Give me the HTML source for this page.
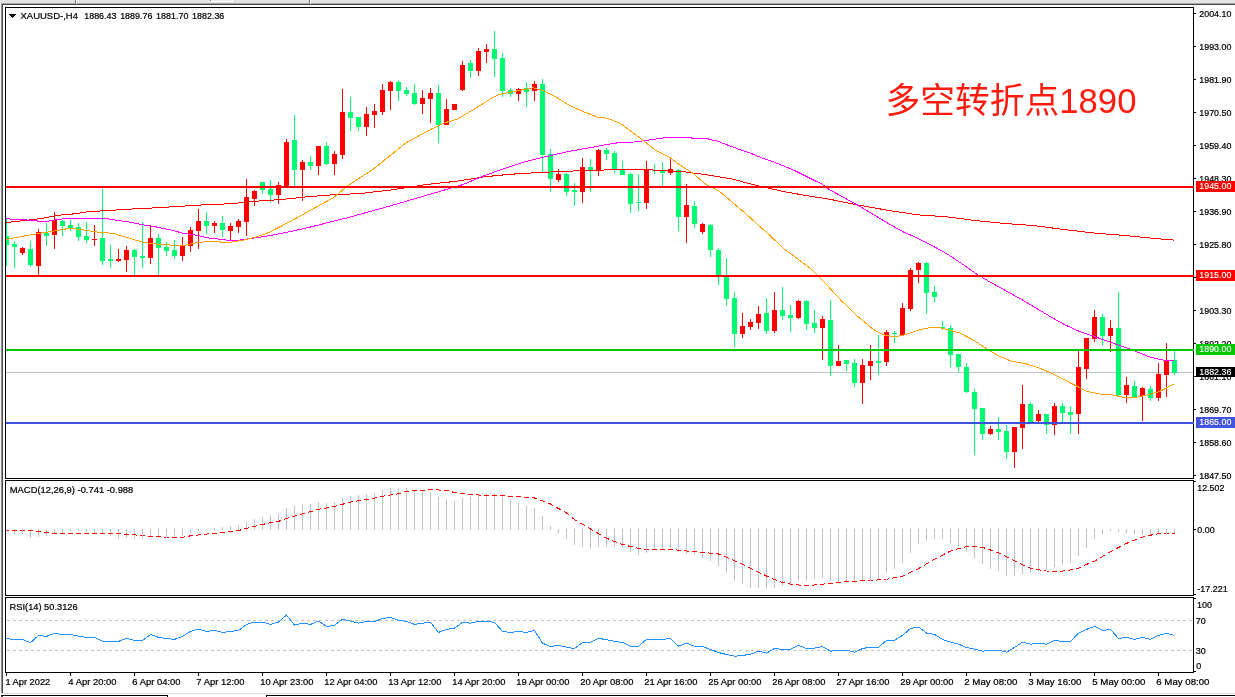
<!DOCTYPE html><html><head><meta charset="utf-8"><title>XAUUSD H4</title><style>
html,body{margin:0;padding:0;background:#fff;overflow:hidden}
svg{display:block}
text{font-family:"Liberation Sans","Noto Sans CJK SC",sans-serif;font-size:9px;fill:#000;stroke:#000;stroke-width:.22px}
text.w{fill:#fff;stroke:#fff;stroke-width:.12px}
.big{stroke:none;font-family:"Liberation Sans","Noto Sans CJK SC",sans-serif;font-size:35px;fill:#ff1a0e;font-weight:400}
</style></head><body>
<svg width="1235" height="697" viewBox="0 0 1235 697">
<rect width="1235" height="697" fill="#fff"/>
<g shape-rendering="crispEdges">
<rect x="0" y="0" width="1235" height="3" fill="#e3e3e3"/>
<rect x="0" y="3" width="1235" height="1" fill="#a6a6a6"/>
<rect x="2" y="4" width="1233" height="1" fill="#484848"/>
<rect x="75" y="0" width="1" height="4" fill="#777"/>
<rect x="76" y="0" width="1" height="4" fill="#fff"/>
<rect x="309" y="0" width="1" height="4" fill="#777"/>
<rect x="310" y="0" width="1" height="4" fill="#fff"/>
<rect x="210" y="0" width="23" height="2" fill="#fff"/>
<rect x="212" y="0" width="19" height="1" fill="#ebebeb"/>
<rect x="210" y="0" width="1" height="1" fill="#666"/>
<rect x="0" y="3" width="1" height="690" fill="#f2f2f2"/>
<rect x="1" y="4" width="1" height="689" fill="#909090"/>
<rect x="2" y="4" width="1" height="689" fill="#4c4c4c"/>
<rect x="1" y="693" width="1234" height="1" fill="#dcdcdc"/>
<rect x="1" y="695" width="167" height="1" fill="#000"/>
<rect x="167" y="695" width="1" height="2" fill="#000"/>
<rect x="266" y="695" width="969" height="1" fill="#000"/>
<rect x="266" y="695" width="1" height="2" fill="#000"/>
<rect x="1" y="696" width="2" height="1" fill="#444"/>
<rect x="5" y="7" width="1189" height="1" fill="#000"/>
<rect x="5" y="478" width="1189" height="1" fill="#000"/>
<rect x="5" y="7" width="1" height="472" fill="#000"/>
<rect x="1193" y="7" width="1" height="472" fill="#000"/>
<rect x="5" y="480" width="1189" height="1" fill="#000"/>
<rect x="5" y="595" width="1189" height="1" fill="#000"/>
<rect x="5" y="480" width="1" height="116" fill="#000"/>
<rect x="1193" y="480" width="1" height="116" fill="#000"/>
<rect x="5" y="597" width="1189" height="1" fill="#000"/>
<rect x="5" y="672" width="1189" height="1" fill="#000"/>
<rect x="5" y="597" width="1" height="76" fill="#000"/>
<rect x="1193" y="597" width="1" height="76" fill="#000"/>
</g>
<defs><clipPath id="c1"><rect x="6" y="8" width="1188" height="470"/></clipPath><clipPath id="c2"><rect x="6" y="481" width="1187" height="114"/></clipPath><clipPath id="c3"><rect x="6" y="598" width="1187" height="74"/></clipPath></defs>
<g shape-rendering="crispEdges" clip-path="url(#c1)">
<rect x="6" y="372" width="1187" height="1" fill="#c0c0c0"/>
<rect x="6" y="219" width="1" height="47" fill="#00fa70"/>
<rect x="4" y="236" width="5" height="9" fill="#00fa70"/>
<rect x="14" y="241" width="1" height="27" fill="#00fa70"/>
<rect x="12" y="244" width="5" height="3" fill="#00fa70"/>
<rect x="22" y="247" width="1" height="8" fill="#ff0000"/>
<rect x="20" y="248" width="5" height="5" fill="#ff0000"/>
<rect x="30" y="241" width="1" height="26" fill="#00fa70"/>
<rect x="28" y="249" width="5" height="16" fill="#00fa70"/>
<rect x="38" y="229" width="1" height="47" fill="#ff0000"/>
<rect x="36" y="232" width="5" height="34" fill="#ff0000"/>
<rect x="46" y="223" width="1" height="23" fill="#00fa70"/>
<rect x="44" y="233" width="5" height="3" fill="#00fa70"/>
<rect x="54" y="212" width="1" height="37" fill="#ff0000"/>
<rect x="52" y="220" width="5" height="15" fill="#ff0000"/>
<rect x="62" y="220" width="1" height="16" fill="#00fa70"/>
<rect x="60" y="221" width="5" height="5" fill="#00fa70"/>
<rect x="70" y="220" width="1" height="11" fill="#00fa70"/>
<rect x="68" y="225" width="5" height="3" fill="#00fa70"/>
<rect x="78" y="223" width="1" height="18" fill="#00fa70"/>
<rect x="76" y="227" width="5" height="10" fill="#00fa70"/>
<rect x="86" y="222" width="1" height="21" fill="#00fa70"/>
<rect x="84" y="236" width="5" height="4" fill="#00fa70"/>
<rect x="94" y="225" width="1" height="21" fill="#ff0000"/>
<rect x="92" y="239" width="5" height="1" fill="#ff0000"/>
<rect x="102" y="189" width="1" height="76" fill="#00fa70"/>
<rect x="100" y="238" width="5" height="23" fill="#00fa70"/>
<rect x="110" y="245" width="1" height="23" fill="#00fa70"/>
<rect x="108" y="259" width="5" height="2" fill="#00fa70"/>
<rect x="118" y="249" width="1" height="13" fill="#ff0000"/>
<rect x="116" y="259" width="5" height="2" fill="#ff0000"/>
<rect x="126" y="246" width="1" height="26" fill="#ff0000"/>
<rect x="124" y="250" width="5" height="10" fill="#ff0000"/>
<rect x="134" y="249" width="1" height="27" fill="#00fa70"/>
<rect x="132" y="250" width="5" height="7" fill="#00fa70"/>
<rect x="142" y="222" width="1" height="46" fill="#00fa70"/>
<rect x="140" y="256" width="5" height="2" fill="#00fa70"/>
<rect x="150" y="225" width="1" height="39" fill="#ff0000"/>
<rect x="148" y="238" width="5" height="20" fill="#ff0000"/>
<rect x="158" y="234" width="1" height="42" fill="#00fa70"/>
<rect x="156" y="238" width="5" height="10" fill="#00fa70"/>
<rect x="166" y="242" width="1" height="14" fill="#00fa70"/>
<rect x="164" y="247" width="5" height="4" fill="#00fa70"/>
<rect x="174" y="240" width="1" height="19" fill="#00fa70"/>
<rect x="172" y="250" width="5" height="6" fill="#00fa70"/>
<rect x="182" y="237" width="1" height="24" fill="#ff0000"/>
<rect x="180" y="246" width="5" height="10" fill="#ff0000"/>
<rect x="190" y="227" width="1" height="25" fill="#ff0000"/>
<rect x="188" y="230" width="5" height="16" fill="#ff0000"/>
<rect x="198" y="209" width="1" height="40" fill="#ff0000"/>
<rect x="196" y="221" width="5" height="10" fill="#ff0000"/>
<rect x="206" y="212" width="1" height="22" fill="#00fa70"/>
<rect x="204" y="221" width="5" height="5" fill="#00fa70"/>
<rect x="214" y="221" width="1" height="12" fill="#ff0000"/>
<rect x="212" y="223" width="5" height="3" fill="#ff0000"/>
<rect x="222" y="216" width="1" height="21" fill="#00fa70"/>
<rect x="220" y="223" width="5" height="7" fill="#00fa70"/>
<rect x="230" y="223" width="1" height="17" fill="#ff0000"/>
<rect x="228" y="226" width="5" height="5" fill="#ff0000"/>
<rect x="238" y="219" width="1" height="14" fill="#ff0000"/>
<rect x="236" y="221" width="5" height="6" fill="#ff0000"/>
<rect x="246" y="179" width="1" height="57" fill="#ff0000"/>
<rect x="244" y="197" width="5" height="25" fill="#ff0000"/>
<rect x="254" y="190" width="1" height="16" fill="#ff0000"/>
<rect x="252" y="191" width="5" height="8" fill="#ff0000"/>
<rect x="262" y="182" width="1" height="12" fill="#00fa70"/>
<rect x="260" y="182" width="5" height="8" fill="#00fa70"/>
<rect x="270" y="180" width="1" height="23" fill="#00fa70"/>
<rect x="268" y="189" width="5" height="6" fill="#00fa70"/>
<rect x="278" y="182" width="1" height="22" fill="#ff0000"/>
<rect x="276" y="185" width="5" height="10" fill="#ff0000"/>
<rect x="286" y="139" width="1" height="49" fill="#ff0000"/>
<rect x="284" y="142" width="5" height="46" fill="#ff0000"/>
<rect x="294" y="115" width="1" height="73" fill="#00fa70"/>
<rect x="292" y="140" width="5" height="30" fill="#00fa70"/>
<rect x="302" y="160" width="1" height="41" fill="#ff0000"/>
<rect x="300" y="162" width="5" height="8" fill="#ff0000"/>
<rect x="310" y="156" width="1" height="14" fill="#00fa70"/>
<rect x="308" y="162" width="5" height="4" fill="#00fa70"/>
<rect x="318" y="146" width="1" height="29" fill="#ff0000"/>
<rect x="316" y="146" width="5" height="20" fill="#ff0000"/>
<rect x="326" y="142" width="1" height="23" fill="#00fa70"/>
<rect x="324" y="146" width="5" height="18" fill="#00fa70"/>
<rect x="334" y="151" width="1" height="24" fill="#ff0000"/>
<rect x="332" y="154" width="5" height="10" fill="#ff0000"/>
<rect x="342" y="89" width="1" height="70" fill="#ff0000"/>
<rect x="340" y="112" width="5" height="43" fill="#ff0000"/>
<rect x="350" y="97" width="1" height="34" fill="#00fa70"/>
<rect x="348" y="112" width="5" height="6" fill="#00fa70"/>
<rect x="358" y="117" width="1" height="14" fill="#00fa70"/>
<rect x="356" y="117" width="5" height="10" fill="#00fa70"/>
<rect x="366" y="107" width="1" height="29" fill="#ff0000"/>
<rect x="364" y="114" width="5" height="13" fill="#ff0000"/>
<rect x="374" y="104" width="1" height="24" fill="#ff0000"/>
<rect x="372" y="111" width="5" height="4" fill="#ff0000"/>
<rect x="382" y="84" width="1" height="31" fill="#ff0000"/>
<rect x="380" y="90" width="5" height="22" fill="#ff0000"/>
<rect x="390" y="81" width="1" height="29" fill="#ff0000"/>
<rect x="388" y="82" width="5" height="9" fill="#ff0000"/>
<rect x="398" y="80" width="1" height="21" fill="#00fa70"/>
<rect x="396" y="82" width="5" height="9" fill="#00fa70"/>
<rect x="406" y="87" width="1" height="9" fill="#00fa70"/>
<rect x="404" y="90" width="5" height="4" fill="#00fa70"/>
<rect x="414" y="84" width="1" height="21" fill="#00fa70"/>
<rect x="412" y="93" width="5" height="11" fill="#00fa70"/>
<rect x="422" y="90" width="1" height="24" fill="#ff0000"/>
<rect x="420" y="98" width="5" height="6" fill="#ff0000"/>
<rect x="430" y="88" width="1" height="35" fill="#ff0000"/>
<rect x="428" y="93" width="5" height="6" fill="#ff0000"/>
<rect x="438" y="85" width="1" height="58" fill="#00fa70"/>
<rect x="436" y="93" width="5" height="32" fill="#00fa70"/>
<rect x="446" y="99" width="1" height="26" fill="#ff0000"/>
<rect x="444" y="109" width="5" height="16" fill="#ff0000"/>
<rect x="454" y="104" width="1" height="6" fill="#ff0000"/>
<rect x="452" y="104" width="5" height="6" fill="#ff0000"/>
<rect x="462" y="61" width="1" height="30" fill="#ff0000"/>
<rect x="460" y="65" width="5" height="25" fill="#ff0000"/>
<rect x="470" y="60" width="1" height="18" fill="#00fa70"/>
<rect x="468" y="63" width="5" height="8" fill="#00fa70"/>
<rect x="478" y="48" width="1" height="28" fill="#ff0000"/>
<rect x="476" y="51" width="5" height="20" fill="#ff0000"/>
<rect x="486" y="44" width="1" height="19" fill="#ff0000"/>
<rect x="484" y="49" width="5" height="3" fill="#ff0000"/>
<rect x="494" y="31" width="1" height="46" fill="#00fa70"/>
<rect x="492" y="49" width="5" height="10" fill="#00fa70"/>
<rect x="502" y="53" width="1" height="44" fill="#00fa70"/>
<rect x="500" y="58" width="5" height="33" fill="#00fa70"/>
<rect x="510" y="88" width="1" height="9" fill="#00fa70"/>
<rect x="508" y="90" width="5" height="4" fill="#00fa70"/>
<rect x="518" y="88" width="1" height="13" fill="#ff0000"/>
<rect x="516" y="89" width="5" height="5" fill="#ff0000"/>
<rect x="526" y="82" width="1" height="25" fill="#00fa70"/>
<rect x="524" y="88" width="5" height="4" fill="#00fa70"/>
<rect x="534" y="81" width="1" height="20" fill="#ff0000"/>
<rect x="532" y="84" width="5" height="7" fill="#ff0000"/>
<rect x="542" y="79" width="1" height="93" fill="#00fa70"/>
<rect x="540" y="84" width="5" height="71" fill="#00fa70"/>
<rect x="550" y="149" width="1" height="43" fill="#00fa70"/>
<rect x="548" y="154" width="5" height="25" fill="#00fa70"/>
<rect x="558" y="169" width="1" height="13" fill="#ff0000"/>
<rect x="556" y="174" width="5" height="6" fill="#ff0000"/>
<rect x="566" y="173" width="1" height="23" fill="#00fa70"/>
<rect x="564" y="174" width="5" height="18" fill="#00fa70"/>
<rect x="574" y="183" width="1" height="23" fill="#00fa70"/>
<rect x="572" y="190" width="5" height="2" fill="#00fa70"/>
<rect x="582" y="158" width="1" height="45" fill="#ff0000"/>
<rect x="580" y="167" width="5" height="25" fill="#ff0000"/>
<rect x="590" y="159" width="1" height="33" fill="#00fa70"/>
<rect x="588" y="167" width="5" height="3" fill="#00fa70"/>
<rect x="598" y="149" width="1" height="27" fill="#ff0000"/>
<rect x="596" y="150" width="5" height="21" fill="#ff0000"/>
<rect x="606" y="148" width="1" height="12" fill="#00fa70"/>
<rect x="604" y="150" width="5" height="4" fill="#00fa70"/>
<rect x="614" y="151" width="1" height="22" fill="#00fa70"/>
<rect x="612" y="153" width="5" height="16" fill="#00fa70"/>
<rect x="622" y="161" width="1" height="14" fill="#00fa70"/>
<rect x="620" y="170" width="5" height="5" fill="#00fa70"/>
<rect x="630" y="173" width="1" height="40" fill="#00fa70"/>
<rect x="628" y="174" width="5" height="30" fill="#00fa70"/>
<rect x="638" y="174" width="1" height="37" fill="#00fa70"/>
<rect x="636" y="202" width="5" height="1" fill="#00fa70"/>
<rect x="646" y="161" width="1" height="48" fill="#ff0000"/>
<rect x="644" y="169" width="5" height="34" fill="#ff0000"/>
<rect x="654" y="164" width="1" height="10" fill="#00fa70"/>
<rect x="652" y="170" width="5" height="1" fill="#00fa70"/>
<rect x="662" y="162" width="1" height="24" fill="#00fa70"/>
<rect x="660" y="170" width="5" height="3" fill="#00fa70"/>
<rect x="670" y="157" width="1" height="18" fill="#ff0000"/>
<rect x="668" y="169" width="5" height="4" fill="#ff0000"/>
<rect x="678" y="169" width="1" height="62" fill="#00fa70"/>
<rect x="676" y="170" width="5" height="47" fill="#00fa70"/>
<rect x="686" y="184" width="1" height="59" fill="#ff0000"/>
<rect x="684" y="205" width="5" height="12" fill="#ff0000"/>
<rect x="694" y="201" width="1" height="27" fill="#00fa70"/>
<rect x="692" y="206" width="5" height="18" fill="#00fa70"/>
<rect x="702" y="223" width="1" height="11" fill="#ff0000"/>
<rect x="700" y="224" width="5" height="8" fill="#ff0000"/>
<rect x="710" y="224" width="1" height="33" fill="#00fa70"/>
<rect x="708" y="225" width="5" height="25" fill="#00fa70"/>
<rect x="718" y="248" width="1" height="37" fill="#00fa70"/>
<rect x="716" y="250" width="5" height="25" fill="#00fa70"/>
<rect x="726" y="258" width="1" height="48" fill="#00fa70"/>
<rect x="724" y="277" width="5" height="22" fill="#00fa70"/>
<rect x="734" y="292" width="1" height="55" fill="#00fa70"/>
<rect x="732" y="298" width="5" height="36" fill="#00fa70"/>
<rect x="742" y="313" width="1" height="25" fill="#ff0000"/>
<rect x="740" y="326" width="5" height="8" fill="#ff0000"/>
<rect x="750" y="319" width="1" height="11" fill="#ff0000"/>
<rect x="748" y="322" width="5" height="5" fill="#ff0000"/>
<rect x="758" y="306" width="1" height="23" fill="#ff0000"/>
<rect x="756" y="314" width="5" height="9" fill="#ff0000"/>
<rect x="766" y="298" width="1" height="36" fill="#00fa70"/>
<rect x="764" y="313" width="5" height="18" fill="#00fa70"/>
<rect x="774" y="292" width="1" height="41" fill="#ff0000"/>
<rect x="772" y="310" width="5" height="21" fill="#ff0000"/>
<rect x="782" y="287" width="1" height="33" fill="#00fa70"/>
<rect x="780" y="310" width="5" height="6" fill="#00fa70"/>
<rect x="790" y="305" width="1" height="27" fill="#00fa70"/>
<rect x="788" y="315" width="5" height="3" fill="#00fa70"/>
<rect x="798" y="300" width="1" height="19" fill="#ff0000"/>
<rect x="796" y="301" width="5" height="17" fill="#ff0000"/>
<rect x="806" y="300" width="1" height="30" fill="#00fa70"/>
<rect x="804" y="301" width="5" height="23" fill="#00fa70"/>
<rect x="814" y="310" width="1" height="23" fill="#00fa70"/>
<rect x="812" y="323" width="5" height="5" fill="#00fa70"/>
<rect x="822" y="316" width="1" height="44" fill="#ff0000"/>
<rect x="820" y="319" width="5" height="9" fill="#ff0000"/>
<rect x="830" y="300" width="1" height="76" fill="#00fa70"/>
<rect x="828" y="320" width="5" height="46" fill="#00fa70"/>
<rect x="838" y="345" width="1" height="21" fill="#ff0000"/>
<rect x="836" y="361" width="5" height="5" fill="#ff0000"/>
<rect x="846" y="360" width="1" height="11" fill="#00fa70"/>
<rect x="844" y="360" width="5" height="4" fill="#00fa70"/>
<rect x="854" y="359" width="1" height="28" fill="#00fa70"/>
<rect x="852" y="363" width="5" height="20" fill="#00fa70"/>
<rect x="862" y="359" width="1" height="45" fill="#ff0000"/>
<rect x="860" y="365" width="5" height="18" fill="#ff0000"/>
<rect x="870" y="345" width="1" height="35" fill="#ff0000"/>
<rect x="868" y="361" width="5" height="5" fill="#ff0000"/>
<rect x="878" y="335" width="1" height="40" fill="#00fa70"/>
<rect x="876" y="361" width="5" height="2" fill="#00fa70"/>
<rect x="886" y="330" width="1" height="36" fill="#ff0000"/>
<rect x="884" y="332" width="5" height="30" fill="#ff0000"/>
<rect x="894" y="331" width="1" height="12" fill="#00fa70"/>
<rect x="892" y="333" width="5" height="1" fill="#00fa70"/>
<rect x="902" y="303" width="1" height="32" fill="#ff0000"/>
<rect x="900" y="308" width="5" height="27" fill="#ff0000"/>
<rect x="910" y="268" width="1" height="43" fill="#ff0000"/>
<rect x="908" y="270" width="5" height="39" fill="#ff0000"/>
<rect x="918" y="262" width="1" height="21" fill="#ff0000"/>
<rect x="916" y="263" width="5" height="7" fill="#ff0000"/>
<rect x="926" y="262" width="1" height="52" fill="#00fa70"/>
<rect x="924" y="263" width="5" height="30" fill="#00fa70"/>
<rect x="934" y="286" width="1" height="16" fill="#00fa70"/>
<rect x="932" y="292" width="5" height="5" fill="#00fa70"/>
<rect x="942" y="321" width="1" height="9" fill="#00fa70"/>
<rect x="940" y="327" width="5" height="1" fill="#00fa70"/>
<rect x="950" y="325" width="1" height="42" fill="#00fa70"/>
<rect x="948" y="328" width="5" height="27" fill="#00fa70"/>
<rect x="958" y="354" width="1" height="18" fill="#00fa70"/>
<rect x="956" y="354" width="5" height="13" fill="#00fa70"/>
<rect x="966" y="363" width="1" height="30" fill="#00fa70"/>
<rect x="964" y="367" width="5" height="25" fill="#00fa70"/>
<rect x="974" y="389" width="1" height="66" fill="#00fa70"/>
<rect x="972" y="392" width="5" height="17" fill="#00fa70"/>
<rect x="982" y="408" width="1" height="32" fill="#00fa70"/>
<rect x="980" y="408" width="5" height="26" fill="#00fa70"/>
<rect x="990" y="426" width="1" height="9" fill="#ff0000"/>
<rect x="988" y="429" width="5" height="5" fill="#ff0000"/>
<rect x="998" y="417" width="1" height="23" fill="#00fa70"/>
<rect x="996" y="429" width="5" height="3" fill="#00fa70"/>
<rect x="1006" y="425" width="1" height="34" fill="#00fa70"/>
<rect x="1004" y="431" width="5" height="21" fill="#00fa70"/>
<rect x="1014" y="427" width="1" height="41" fill="#ff0000"/>
<rect x="1012" y="427" width="5" height="25" fill="#ff0000"/>
<rect x="1022" y="385" width="1" height="64" fill="#ff0000"/>
<rect x="1020" y="404" width="5" height="24" fill="#ff0000"/>
<rect x="1030" y="402" width="1" height="22" fill="#00fa70"/>
<rect x="1028" y="404" width="5" height="20" fill="#00fa70"/>
<rect x="1038" y="410" width="1" height="12" fill="#ff0000"/>
<rect x="1036" y="414" width="5" height="7" fill="#ff0000"/>
<rect x="1046" y="414" width="1" height="20" fill="#00fa70"/>
<rect x="1044" y="414" width="5" height="11" fill="#00fa70"/>
<rect x="1054" y="403" width="1" height="32" fill="#ff0000"/>
<rect x="1052" y="406" width="5" height="19" fill="#ff0000"/>
<rect x="1062" y="403" width="1" height="19" fill="#00fa70"/>
<rect x="1060" y="406" width="5" height="7" fill="#00fa70"/>
<rect x="1070" y="406" width="1" height="28" fill="#00fa70"/>
<rect x="1068" y="412" width="5" height="3" fill="#00fa70"/>
<rect x="1078" y="351" width="1" height="83" fill="#ff0000"/>
<rect x="1076" y="367" width="5" height="47" fill="#ff0000"/>
<rect x="1086" y="338" width="1" height="41" fill="#ff0000"/>
<rect x="1084" y="338" width="5" height="31" fill="#ff0000"/>
<rect x="1094" y="310" width="1" height="32" fill="#ff0000"/>
<rect x="1092" y="317" width="5" height="22" fill="#ff0000"/>
<rect x="1102" y="314" width="1" height="32" fill="#00fa70"/>
<rect x="1100" y="317" width="5" height="19" fill="#00fa70"/>
<rect x="1110" y="320" width="1" height="32" fill="#ff0000"/>
<rect x="1108" y="328" width="5" height="8" fill="#ff0000"/>
<rect x="1118" y="292" width="1" height="104" fill="#00fa70"/>
<rect x="1116" y="328" width="5" height="67" fill="#00fa70"/>
<rect x="1126" y="377" width="1" height="26" fill="#ff0000"/>
<rect x="1124" y="385" width="5" height="10" fill="#ff0000"/>
<rect x="1134" y="381" width="1" height="16" fill="#00fa70"/>
<rect x="1132" y="386" width="5" height="11" fill="#00fa70"/>
<rect x="1142" y="387" width="1" height="34" fill="#ff0000"/>
<rect x="1140" y="388" width="5" height="8" fill="#ff0000"/>
<rect x="1150" y="386" width="1" height="15" fill="#00fa70"/>
<rect x="1148" y="389" width="5" height="9" fill="#00fa70"/>
<rect x="1158" y="363" width="1" height="38" fill="#ff0000"/>
<rect x="1156" y="374" width="5" height="24" fill="#ff0000"/>
<rect x="1166" y="343" width="1" height="54" fill="#ff0000"/>
<rect x="1164" y="361" width="5" height="14" fill="#ff0000"/>
<rect x="1174" y="350" width="1" height="25" fill="#00fa70"/>
<rect x="1172" y="360" width="5" height="13" fill="#00fa70"/>
<polyline points="6.5,222.5 25.9,220.4 42.7,218.2 58.3,215.2 73.8,213.9 90.7,211.3 106.2,210.8 121.8,209.5 146.0,208.3 163.0,207.4 194.0,205.4 209.5,204.5 230.0,203.8 255.9,201.2 281.8,199.5 307.7,196.7 333.6,194.7 359.5,193.6 390.0,190.1 426.0,184.6 457.7,181.1 483.6,176.9 509.5,174.3 540.0,172.5 570.0,171.1 610.0,169.8 650.0,169.8 672.0,171.1 680.0,171.2 705.9,174.7 731.8,179.0 757.7,185.7 783.6,191.6 809.5,196.1 830.0,199.3 859.2,205.2 888.3,210.4 917.5,214.8 946.6,216.8 975.8,220.6 1004.9,223.5 1034.1,225.6 1063.2,229.4 1092.4,232.9 1121.5,235.2 1150.7,238.1 1174.0,240.1" fill="none" stroke="#ff0000" stroke-width="1"/>
<polyline points="6.5,218.5 13.0,219.5 25.9,219.9 42.7,221.5 51.8,220.8 58.3,219.2 73.8,218.5 106.2,218.5 116.6,220.2 129.5,222.1 142.5,224.7 157.7,227.2 170.7,230.0 183.6,233.3 196.6,235.2 209.5,238.2 222.5,239.5 232.0,240.9 243.0,239.7 255.9,237.7 268.9,235.8 281.8,233.2 294.8,230.6 307.7,227.7 320.7,224.5 333.6,221.1 346.6,218.0 359.5,214.4 372.5,210.8 390.0,206.0 462.9,184.6 483.6,176.0 496.6,171.2 509.5,166.9 522.5,162.4 532.8,159.8 543.0,157.3 555.9,154.3 568.9,151.4 581.8,149.1 594.8,146.9 607.7,144.3 620.7,142.4 633.6,142.0 646.6,140.4 659.5,138.5 665.7,137.5 690.6,137.5 692.0,138.4 707.0,138.5 709.9,139.5 716.7,140.9 728.0,145.2 739.4,149.4 750.7,153.3 762.0,157.9 773.4,161.8 784.7,166.4 796.6,171.5 809.5,178.0 822.5,184.4 830.0,190.0 840.0,195.4 859.2,206.0 888.3,223.5 902.9,231.7 917.5,238.1 940.3,250.0 950.7,256.2 963.6,264.9 976.6,274.0 989.5,281.7 1002.5,288.9 1020.0,298.6 1040.0,310.4 1053.0,318.2 1065.9,325.3 1078.9,331.2 1091.8,335.7 1104.8,340.2 1117.7,344.8 1128.1,348.4 1138.4,352.5 1150.1,357.1 1163.0,360.1 1174.0,360.4" fill="none" stroke="#ff00ff" stroke-width="1"/>
<polyline points="6.5,239.6 25.9,235.7 42.7,232.8 58.3,230.3 70.0,228.2 82.9,229.9 98.4,232.2 114.0,233.4 118.9,235.2 131.8,238.9 142.2,242.1 152.5,243.8 164.2,244.4 173.3,245.3 183.6,245.3 190.0,244.4 196.6,242.5 209.5,241.5 222.5,242.1 230.0,242.3 243.0,240.3 255.9,237.1 268.9,232.5 281.8,225.8 294.8,218.9 307.7,211.8 320.7,204.7 333.6,197.6 346.6,186.6 359.5,178.1 372.5,169.7 380.0,163.7 393.0,153.3 405.9,142.9 418.9,135.8 431.8,128.9 444.8,122.8 457.7,119.0 470.7,111.2 483.6,103.4 490.1,99.1 499.2,94.3 509.5,92.4 522.5,89.8 532.8,87.8 543.0,90.5 555.9,97.0 568.9,105.1 581.8,111.0 597.4,117.1 607.7,118.4 620.7,123.6 633.6,133.3 644.0,141.1 654.4,149.5 670.5,157.9 679.0,164.4 693.0,173.4 705.9,184.4 718.9,190.9 731.8,201.9 744.8,212.9 757.7,224.6 770.7,236.2 783.6,248.5 796.6,258.1 809.5,267.8 816.0,273.9 822.5,280.2 826.9,285.0 834.0,292.8 841.8,301.2 849.5,308.3 857.3,316.1 865.1,322.6 872.8,329.0 879.4,332.9 884.8,335.1 893.8,336.7 902.9,335.4 910.7,332.8 921.0,329.5 931.4,327.3 939.2,327.6 949.5,330.2 959.9,333.0 973.0,339.9 985.9,348.3 998.9,356.1 1011.8,361.3 1024.8,363.5 1037.7,367.5 1050.7,372.7 1063.6,379.4 1076.6,386.1 1086.9,391.3 1100.9,394.2 1112.5,394.9 1124.2,397.5 1135.9,397.5 1147.5,394.9 1159.2,391.6 1167.0,387.7 1174.0,383.9" fill="none" stroke="#ff9f00" stroke-width="1"/>
<rect x="6" y="186" width="1188" height="2" fill="#ff0000"/>
<rect x="6" y="275" width="1188" height="2" fill="#ff0000"/>
<rect x="6" y="349" width="1188" height="2" fill="#00c800"/>
<rect x="6" y="422" width="1188" height="2" fill="#3c50dc"/>
</g>
<path d="M9 14h7l-3.5 4z" fill="#000" shape-rendering="crispEdges"/>
<text transform="translate(20.5,19) scale(1,1.03)" textLength="57.5" lengthAdjust="spacingAndGlyphs">XAUUSD-,H4</text>
<text transform="translate(84.2,19) scale(1,1.03)" textLength="32.3" lengthAdjust="spacingAndGlyphs">1886.43</text>
<text transform="translate(120.15,19) scale(1,1.03)" textLength="32.3" lengthAdjust="spacingAndGlyphs">1889.76</text>
<text transform="translate(156.10000000000002,19) scale(1,1.03)" textLength="32.3" lengthAdjust="spacingAndGlyphs">1881.70</text>
<text transform="translate(192.05,19) scale(1,1.03)" textLength="32.3" lengthAdjust="spacingAndGlyphs">1882.36</text>
<text class="big" x="885.5" y="113" textLength="251" lengthAdjust="spacingAndGlyphs">多空转折点1890</text>
<g shape-rendering="crispEdges">
<rect x="1194" y="13" width="2" height="1" fill="#000"/>
<rect x="1194" y="46" width="2" height="1" fill="#000"/>
<rect x="1194" y="79" width="2" height="1" fill="#000"/>
<rect x="1194" y="112" width="2" height="1" fill="#000"/>
<rect x="1194" y="145" width="2" height="1" fill="#000"/>
<rect x="1194" y="178" width="2" height="1" fill="#000"/>
<rect x="1194" y="211" width="2" height="1" fill="#000"/>
<rect x="1194" y="244" width="2" height="1" fill="#000"/>
<rect x="1194" y="277" width="2" height="1" fill="#000"/>
<rect x="1194" y="310" width="2" height="1" fill="#000"/>
<rect x="1194" y="343" width="2" height="1" fill="#000"/>
<rect x="1194" y="376" width="2" height="1" fill="#000"/>
<rect x="1194" y="409" width="2" height="1" fill="#000"/>
<rect x="1194" y="442" width="2" height="1" fill="#000"/>
<rect x="1194" y="475" width="2" height="1" fill="#000"/>
</g>
<text transform="translate(1199.3,16.5) scale(1,1.03)" textLength="32.1" lengthAdjust="spacingAndGlyphs">2004.10</text>
<text transform="translate(1199.3,49.5) scale(1,1.03)" textLength="32.1" lengthAdjust="spacingAndGlyphs">1993.00</text>
<text transform="translate(1199.3,82.5) scale(1,1.03)" textLength="32.1" lengthAdjust="spacingAndGlyphs">1981.90</text>
<text transform="translate(1199.3,115.5) scale(1,1.03)" textLength="32.1" lengthAdjust="spacingAndGlyphs">1970.50</text>
<text transform="translate(1199.3,148.5) scale(1,1.03)" textLength="32.1" lengthAdjust="spacingAndGlyphs">1959.40</text>
<text transform="translate(1199.3,181.5) scale(1,1.03)" textLength="32.1" lengthAdjust="spacingAndGlyphs">1948.30</text>
<text transform="translate(1199.3,214.5) scale(1,1.03)" textLength="32.1" lengthAdjust="spacingAndGlyphs">1936.90</text>
<text transform="translate(1199.3,247.5) scale(1,1.03)" textLength="32.1" lengthAdjust="spacingAndGlyphs">1925.80</text>
<text transform="translate(1199.3,280.5) scale(1,1.03)" textLength="32.1" lengthAdjust="spacingAndGlyphs">1914.70</text>
<text transform="translate(1199.3,313.5) scale(1,1.03)" textLength="32.1" lengthAdjust="spacingAndGlyphs">1903.30</text>
<text transform="translate(1199.3,346.5) scale(1,1.03)" textLength="32.1" lengthAdjust="spacingAndGlyphs">1892.20</text>
<text transform="translate(1199.3,379.5) scale(1,1.03)" textLength="32.1" lengthAdjust="spacingAndGlyphs">1881.10</text>
<text transform="translate(1199.3,412.5) scale(1,1.03)" textLength="32.1" lengthAdjust="spacingAndGlyphs">1869.70</text>
<text transform="translate(1199.3,445.5) scale(1,1.03)" textLength="32.1" lengthAdjust="spacingAndGlyphs">1858.60</text>
<text transform="translate(1199.3,478.5) scale(1,1.03)" textLength="32.1" lengthAdjust="spacingAndGlyphs">1847.50</text>
<rect x="1196" y="181" width="39" height="11" fill="#ff0000" shape-rendering="crispEdges"/>
<text transform="translate(1199.3,189.4) scale(1,1.03)" class="w" textLength="32.1" lengthAdjust="spacingAndGlyphs">1945.00</text>
<rect x="1196" y="270" width="39" height="11" fill="#ff0000" shape-rendering="crispEdges"/>
<text transform="translate(1199.3,278.4) scale(1,1.03)" class="w" textLength="32.1" lengthAdjust="spacingAndGlyphs">1915.00</text>
<rect x="1196" y="344" width="39" height="11" fill="#00c800" shape-rendering="crispEdges"/>
<text transform="translate(1199.3,352.4) scale(1,1.03)" class="w" textLength="32.1" lengthAdjust="spacingAndGlyphs">1890.00</text>
<rect x="1196" y="367" width="39" height="10" fill="#000" shape-rendering="crispEdges"/>
<text transform="translate(1199.3,375.4) scale(1,1.03)" class="w" textLength="32.1" lengthAdjust="spacingAndGlyphs">1882.36</text>
<rect x="1196" y="417" width="39" height="11" fill="#4253de" shape-rendering="crispEdges"/>
<text transform="translate(1199.3,425.4) scale(1,1.03)" class="w" textLength="32.1" lengthAdjust="spacingAndGlyphs">1865.00</text>
<g shape-rendering="crispEdges" clip-path="url(#c2)">
<rect x="6" y="529" width="1" height="3" fill="#c0c0c0"/>
<rect x="14" y="529" width="1" height="5" fill="#c0c0c0"/>
<rect x="22" y="529" width="1" height="5" fill="#c0c0c0"/>
<rect x="30" y="529" width="1" height="9" fill="#c0c0c0"/>
<rect x="38" y="529" width="1" height="8" fill="#c0c0c0"/>
<rect x="46" y="529" width="1" height="7" fill="#c0c0c0"/>
<rect x="54" y="529" width="1" height="5" fill="#c0c0c0"/>
<rect x="62" y="529" width="1" height="4" fill="#c0c0c0"/>
<rect x="70" y="529" width="1" height="2" fill="#c0c0c0"/>
<rect x="78" y="529" width="1" height="2" fill="#c0c0c0"/>
<rect x="86" y="529" width="1" height="3" fill="#c0c0c0"/>
<rect x="94" y="529" width="1" height="4" fill="#c0c0c0"/>
<rect x="102" y="529" width="1" height="4" fill="#c0c0c0"/>
<rect x="110" y="529" width="1" height="7" fill="#c0c0c0"/>
<rect x="118" y="529" width="1" height="10" fill="#c0c0c0"/>
<rect x="126" y="529" width="1" height="9" fill="#c0c0c0"/>
<rect x="134" y="529" width="1" height="10" fill="#c0c0c0"/>
<rect x="142" y="529" width="1" height="10" fill="#c0c0c0"/>
<rect x="150" y="529" width="1" height="8" fill="#c0c0c0"/>
<rect x="158" y="529" width="1" height="8" fill="#c0c0c0"/>
<rect x="166" y="529" width="1" height="8" fill="#c0c0c0"/>
<rect x="174" y="529" width="1" height="8" fill="#c0c0c0"/>
<rect x="182" y="529" width="1" height="7" fill="#c0c0c0"/>
<rect x="190" y="529" width="1" height="4" fill="#c0c0c0"/>
<rect x="198" y="529" width="1" height="2" fill="#c0c0c0"/>
<rect x="206" y="529" width="1" height="1" fill="#c0c0c0"/>
<rect x="214" y="528" width="1" height="2" fill="#c0c0c0"/>
<rect x="222" y="527" width="1" height="3" fill="#c0c0c0"/>
<rect x="230" y="526" width="1" height="4" fill="#c0c0c0"/>
<rect x="238" y="525" width="1" height="5" fill="#c0c0c0"/>
<rect x="246" y="522" width="1" height="8" fill="#c0c0c0"/>
<rect x="254" y="519" width="1" height="11" fill="#c0c0c0"/>
<rect x="262" y="517" width="1" height="13" fill="#c0c0c0"/>
<rect x="270" y="515" width="1" height="15" fill="#c0c0c0"/>
<rect x="278" y="514" width="1" height="16" fill="#c0c0c0"/>
<rect x="286" y="508" width="1" height="22" fill="#c0c0c0"/>
<rect x="294" y="506" width="1" height="24" fill="#c0c0c0"/>
<rect x="302" y="505" width="1" height="25" fill="#c0c0c0"/>
<rect x="310" y="504" width="1" height="26" fill="#c0c0c0"/>
<rect x="318" y="502" width="1" height="28" fill="#c0c0c0"/>
<rect x="326" y="503" width="1" height="27" fill="#c0c0c0"/>
<rect x="334" y="502" width="1" height="28" fill="#c0c0c0"/>
<rect x="342" y="498" width="1" height="32" fill="#c0c0c0"/>
<rect x="350" y="496" width="1" height="34" fill="#c0c0c0"/>
<rect x="358" y="495" width="1" height="35" fill="#c0c0c0"/>
<rect x="366" y="494" width="1" height="36" fill="#c0c0c0"/>
<rect x="374" y="493" width="1" height="37" fill="#c0c0c0"/>
<rect x="382" y="490" width="1" height="40" fill="#c0c0c0"/>
<rect x="390" y="488" width="1" height="42" fill="#c0c0c0"/>
<rect x="398" y="488" width="1" height="42" fill="#c0c0c0"/>
<rect x="406" y="488" width="1" height="42" fill="#c0c0c0"/>
<rect x="414" y="490" width="1" height="40" fill="#c0c0c0"/>
<rect x="422" y="490" width="1" height="40" fill="#c0c0c0"/>
<rect x="430" y="492" width="1" height="38" fill="#c0c0c0"/>
<rect x="438" y="497" width="1" height="33" fill="#c0c0c0"/>
<rect x="446" y="499" width="1" height="31" fill="#c0c0c0"/>
<rect x="454" y="501" width="1" height="29" fill="#c0c0c0"/>
<rect x="462" y="498" width="1" height="32" fill="#c0c0c0"/>
<rect x="470" y="497" width="1" height="33" fill="#c0c0c0"/>
<rect x="478" y="495" width="1" height="35" fill="#c0c0c0"/>
<rect x="486" y="493" width="1" height="37" fill="#c0c0c0"/>
<rect x="494" y="493" width="1" height="37" fill="#c0c0c0"/>
<rect x="502" y="497" width="1" height="33" fill="#c0c0c0"/>
<rect x="510" y="500" width="1" height="30" fill="#c0c0c0"/>
<rect x="518" y="503" width="1" height="27" fill="#c0c0c0"/>
<rect x="526" y="506" width="1" height="24" fill="#c0c0c0"/>
<rect x="534" y="508" width="1" height="22" fill="#c0c0c0"/>
<rect x="542" y="516" width="1" height="14" fill="#c0c0c0"/>
<rect x="550" y="526" width="1" height="4" fill="#c0c0c0"/>
<rect x="558" y="529" width="1" height="4" fill="#c0c0c0"/>
<rect x="566" y="529" width="1" height="10" fill="#c0c0c0"/>
<rect x="574" y="529" width="1" height="16" fill="#c0c0c0"/>
<rect x="582" y="529" width="1" height="18" fill="#c0c0c0"/>
<rect x="590" y="529" width="1" height="20" fill="#c0c0c0"/>
<rect x="598" y="529" width="1" height="18" fill="#c0c0c0"/>
<rect x="606" y="529" width="1" height="18" fill="#c0c0c0"/>
<rect x="614" y="529" width="1" height="18" fill="#c0c0c0"/>
<rect x="622" y="529" width="1" height="19" fill="#c0c0c0"/>
<rect x="630" y="529" width="1" height="23" fill="#c0c0c0"/>
<rect x="638" y="529" width="1" height="26" fill="#c0c0c0"/>
<rect x="646" y="529" width="1" height="24" fill="#c0c0c0"/>
<rect x="654" y="529" width="1" height="21" fill="#c0c0c0"/>
<rect x="662" y="529" width="1" height="20" fill="#c0c0c0"/>
<rect x="670" y="529" width="1" height="20" fill="#c0c0c0"/>
<rect x="678" y="529" width="1" height="23" fill="#c0c0c0"/>
<rect x="686" y="529" width="1" height="25" fill="#c0c0c0"/>
<rect x="694" y="529" width="1" height="26" fill="#c0c0c0"/>
<rect x="702" y="529" width="1" height="29" fill="#c0c0c0"/>
<rect x="710" y="529" width="1" height="32" fill="#c0c0c0"/>
<rect x="718" y="529" width="1" height="37" fill="#c0c0c0"/>
<rect x="726" y="529" width="1" height="44" fill="#c0c0c0"/>
<rect x="734" y="529" width="1" height="52" fill="#c0c0c0"/>
<rect x="742" y="529" width="1" height="55" fill="#c0c0c0"/>
<rect x="750" y="529" width="1" height="59" fill="#c0c0c0"/>
<rect x="758" y="529" width="1" height="59" fill="#c0c0c0"/>
<rect x="766" y="529" width="1" height="60" fill="#c0c0c0"/>
<rect x="774" y="529" width="1" height="59" fill="#c0c0c0"/>
<rect x="782" y="529" width="1" height="57" fill="#c0c0c0"/>
<rect x="790" y="529" width="1" height="55" fill="#c0c0c0"/>
<rect x="798" y="529" width="1" height="52" fill="#c0c0c0"/>
<rect x="806" y="529" width="1" height="52" fill="#c0c0c0"/>
<rect x="814" y="529" width="1" height="50" fill="#c0c0c0"/>
<rect x="822" y="529" width="1" height="49" fill="#c0c0c0"/>
<rect x="830" y="529" width="1" height="52" fill="#c0c0c0"/>
<rect x="838" y="529" width="1" height="53" fill="#c0c0c0"/>
<rect x="846" y="529" width="1" height="53" fill="#c0c0c0"/>
<rect x="854" y="529" width="1" height="54" fill="#c0c0c0"/>
<rect x="862" y="529" width="1" height="52" fill="#c0c0c0"/>
<rect x="870" y="529" width="1" height="52" fill="#c0c0c0"/>
<rect x="878" y="529" width="1" height="50" fill="#c0c0c0"/>
<rect x="886" y="529" width="1" height="44" fill="#c0c0c0"/>
<rect x="894" y="529" width="1" height="40" fill="#c0c0c0"/>
<rect x="902" y="529" width="1" height="34" fill="#c0c0c0"/>
<rect x="910" y="529" width="1" height="24" fill="#c0c0c0"/>
<rect x="918" y="529" width="1" height="15" fill="#c0c0c0"/>
<rect x="926" y="529" width="1" height="12" fill="#c0c0c0"/>
<rect x="934" y="529" width="1" height="10" fill="#c0c0c0"/>
<rect x="942" y="529" width="1" height="10" fill="#c0c0c0"/>
<rect x="950" y="529" width="1" height="14" fill="#c0c0c0"/>
<rect x="958" y="529" width="1" height="18" fill="#c0c0c0"/>
<rect x="966" y="529" width="1" height="23" fill="#c0c0c0"/>
<rect x="974" y="529" width="1" height="29" fill="#c0c0c0"/>
<rect x="982" y="529" width="1" height="35" fill="#c0c0c0"/>
<rect x="990" y="529" width="1" height="40" fill="#c0c0c0"/>
<rect x="998" y="529" width="1" height="42" fill="#c0c0c0"/>
<rect x="1006" y="529" width="1" height="47" fill="#c0c0c0"/>
<rect x="1014" y="529" width="1" height="47" fill="#c0c0c0"/>
<rect x="1022" y="529" width="1" height="45" fill="#c0c0c0"/>
<rect x="1030" y="529" width="1" height="44" fill="#c0c0c0"/>
<rect x="1038" y="529" width="1" height="42" fill="#c0c0c0"/>
<rect x="1046" y="529" width="1" height="41" fill="#c0c0c0"/>
<rect x="1054" y="529" width="1" height="38" fill="#c0c0c0"/>
<rect x="1062" y="529" width="1" height="36" fill="#c0c0c0"/>
<rect x="1070" y="529" width="1" height="34" fill="#c0c0c0"/>
<rect x="1078" y="529" width="1" height="27" fill="#c0c0c0"/>
<rect x="1086" y="529" width="1" height="19" fill="#c0c0c0"/>
<rect x="1094" y="529" width="1" height="10" fill="#c0c0c0"/>
<rect x="1102" y="529" width="1" height="5" fill="#c0c0c0"/>
<rect x="1110" y="529" width="1" height="2" fill="#c0c0c0"/>
<rect x="1118" y="529" width="1" height="3" fill="#c0c0c0"/>
<rect x="1126" y="529" width="1" height="4" fill="#c0c0c0"/>
<rect x="1134" y="529" width="1" height="5" fill="#c0c0c0"/>
<rect x="1142" y="529" width="1" height="6" fill="#c0c0c0"/>
<rect x="1150" y="529" width="1" height="6" fill="#c0c0c0"/>
<rect x="1158" y="529" width="1" height="5" fill="#c0c0c0"/>
<rect x="1166" y="529" width="1" height="4" fill="#c0c0c0"/>
<rect x="1174" y="529" width="1" height="4" fill="#c0c0c0"/>
<path d="M6.5 530.9L9.0 530.9M12.0 530.8L14.5 530.8M14.5 530.8L17.0 530.7M20.0 530.7L22.5 530.6M22.5 530.6L25.0 530.6M28.0 530.5L30.5 530.5M30.5 530.5L33.0 530.8M36.0 531.2L38.5 531.5M38.5 531.5L41.0 531.8M44.0 532.2L46.5 532.5M46.5 532.5L49.0 532.7M52.0 533.1L54.5 533.3M54.5 533.3L57.0 533.4M60.0 533.4L62.5 533.4M62.5 533.4L65.0 533.4M68.0 533.4L70.5 533.4M70.5 533.4L73.0 533.4M76.0 533.4L78.5 533.4M78.5 533.4L81.0 533.4M84.0 533.4L86.5 533.4M86.5 533.4L89.0 533.4M92.0 533.4L94.5 533.4M94.5 533.4L97.0 533.4M100.0 533.4L102.5 533.4M102.5 533.4L105.0 533.5M108.0 533.5L110.5 533.6M110.5 533.6L113.0 533.7M116.0 533.7L118.5 533.8M118.5 533.8L121.0 534.0M124.0 534.1L126.5 534.3M126.5 534.3L129.0 534.4M132.0 534.6L134.5 534.8M134.5 534.8L137.0 535.1M140.0 535.4L142.5 535.6M142.5 535.6L145.0 535.9M148.0 536.2L150.5 536.4M150.5 536.4L153.0 536.5M156.0 536.7L158.5 536.8M158.5 536.8L161.0 536.9M164.0 537.1L166.5 537.2M166.5 537.2L169.0 537.2M172.0 537.2L174.5 537.2M174.5 537.2L177.0 537.2M180.0 537.2L182.5 537.2M182.5 537.2L185.0 536.8M188.0 536.3L190.5 535.8M190.5 535.8L193.0 535.6M196.0 535.3L198.5 535.0M198.5 535.0L201.0 534.7M204.0 534.4L206.5 534.1M206.5 534.1L209.0 533.8M212.0 533.5L214.5 533.3M214.5 533.3L217.0 533.0M220.0 532.6L222.5 532.4M222.5 532.4L225.0 532.1M228.0 531.8L230.5 531.5M230.5 531.5L233.0 531.2M236.0 530.8L238.5 530.5M238.5 530.5L241.0 529.9M244.0 529.1L246.5 528.4M246.5 528.4L249.0 527.8M252.0 527.0L254.5 526.4M254.5 526.4L257.0 525.8M260.0 525.1L262.5 524.5M262.5 524.5L265.0 523.9M268.0 523.2L270.5 522.7M270.5 522.7L273.0 522.3M276.0 521.8L278.5 521.4M278.5 521.4L281.0 520.4M284.0 519.3L286.5 518.4M286.5 518.4L289.0 517.7M292.0 516.8L294.5 516.1M294.5 516.1L297.0 515.4M300.0 514.6L302.5 513.9M302.5 513.9L305.0 513.2M308.0 512.3L310.5 511.6M310.5 511.6L313.0 510.9M316.0 510.1L318.5 509.4M318.5 509.4L321.0 508.9M324.0 508.4L326.5 507.9M326.5 507.9L329.0 507.4M332.0 506.9L334.5 506.4M334.5 506.4L337.0 505.7M340.0 504.9L342.5 504.3M342.5 504.3L345.0 503.6M348.0 502.8L350.5 502.1M350.5 502.1L353.0 501.7M356.0 501.2L358.5 500.8M358.5 500.8L361.0 500.4M364.0 499.9L366.5 499.5M366.5 499.5L369.0 499.0M372.0 498.5L374.5 498.1M374.5 498.1L377.0 497.5M380.0 496.9L382.5 496.3M382.5 496.3L385.0 495.9M388.0 495.4L390.5 495.0M390.5 495.0L393.0 494.6M396.0 494.1L398.5 493.7M398.5 493.7L401.0 493.0M404.0 492.1L406.5 491.3M406.5 491.3L409.0 491.2M412.0 491.0L414.5 490.9M414.5 490.9L417.0 490.8M420.0 490.6L422.5 490.5M422.5 490.5L425.0 490.2M428.0 489.8L430.5 489.5M430.5 489.5L433.0 489.7M436.0 489.8L438.5 490.0M438.5 490.0L441.0 490.2M444.0 490.3L446.5 490.5M446.5 490.5L449.0 491.1M452.0 491.9L454.5 492.5M454.5 492.5L457.0 492.8M460.0 493.2L462.5 493.5M462.5 493.5L465.0 493.9M468.0 494.3L470.5 494.6M470.5 494.6L473.0 494.7M476.0 494.8L478.5 495.0M478.5 495.0L481.0 495.1M484.0 495.2L486.5 495.3M486.5 495.3L489.0 495.4M492.0 495.5L494.5 495.6M494.5 495.6L497.0 495.7M500.0 495.8L502.5 495.9M502.5 495.9L505.0 496.0M508.0 496.1L510.5 496.1M510.5 496.1L513.0 496.3M516.0 496.5L518.5 496.6M518.5 496.6L521.0 496.8M524.0 497.1L526.5 497.3M526.5 497.3L529.0 497.5M532.0 497.8L534.5 498.0M534.5 498.0L537.0 498.9M540.0 500.0L542.5 500.9M542.5 500.9L545.0 501.8M548.0 503.0L550.5 504.0M550.5 504.0L553.0 505.4M556.0 507.1L558.5 508.5M558.5 508.5L561.0 509.9M564.0 511.6L566.5 513.0M566.5 513.0L569.0 515.1M572.0 517.6L574.5 519.6M574.5 519.6L577.0 521.1M580.0 522.8L582.5 524.3M582.5 524.3L585.0 525.8M588.0 527.5L590.5 529.0M590.5 529.0L593.0 530.4M596.0 532.1L598.5 533.6M598.5 533.6L601.0 535.0M604.0 536.8L606.5 538.2M606.5 538.2L609.0 539.2M612.0 540.5L614.5 541.5M614.5 541.5L617.0 542.4M620.0 543.6L622.5 544.5M622.5 544.5L625.0 545.1M628.0 545.9L630.5 546.5M630.5 546.5L633.0 547.0M636.0 547.7L638.5 548.3M638.5 548.3L641.0 548.7M644.0 549.1L646.5 549.5M646.5 549.5L649.0 549.5M652.0 549.4L654.5 549.4M654.5 549.4L657.0 549.4M660.0 549.4L662.5 549.4M662.5 549.4L665.0 549.3M668.0 549.3L670.5 549.3M670.5 549.3L673.0 549.6M676.0 549.9L678.5 550.1M678.5 550.1L681.0 550.4M684.0 550.7L686.5 551.0M686.5 551.0L689.0 551.2M692.0 551.4L694.5 551.6M694.5 551.6L697.0 551.8M700.0 552.1L702.5 552.3M702.5 552.3L705.0 552.6M708.0 552.9L710.5 553.1M710.5 553.1L713.0 553.4M716.0 553.8L718.5 554.0M718.5 554.0L721.0 555.1M724.0 556.3L726.5 557.3M726.5 557.3L729.0 558.4M732.0 559.7L734.5 560.7M734.5 560.7L737.0 561.8M740.0 563.0L742.5 564.1M742.5 564.1L745.0 565.4M748.0 566.9L750.5 568.2M750.5 568.2L753.0 569.5M756.0 571.1L758.5 572.3M758.5 572.3L761.0 573.5M764.0 574.8L766.5 576.0M766.5 576.0L769.0 577.1M772.0 578.4L774.5 579.6M774.5 579.6L777.0 580.5M780.0 581.5L782.5 582.4M782.5 582.4L785.0 583.0M788.0 583.6L790.5 584.2M790.5 584.2L793.0 584.5M796.0 584.8L798.5 585.0M798.5 585.0L801.0 585.3M804.0 585.6L806.5 585.9M806.5 585.9L809.0 585.6M812.0 585.3L814.5 585.0M814.5 585.0L817.0 584.8M820.0 584.5L822.5 584.2M822.5 584.2L825.0 583.9M828.0 583.6L830.5 583.3M830.5 583.3L833.0 583.0M836.0 582.7L838.5 582.4M838.5 582.4L841.0 582.2M844.0 582.0L846.5 581.8M846.5 581.8L849.0 581.6M852.0 581.4L854.5 581.2M854.5 581.2L857.0 581.1M860.0 580.9L862.5 580.8M862.5 580.8L865.0 580.7M868.0 580.5L870.5 580.4M870.5 580.4L873.0 580.2M876.0 580.1L878.5 579.9M878.5 579.9L881.0 579.7M884.0 579.5L886.5 579.4M886.5 579.4L889.0 578.9M892.0 578.2L894.5 577.7M894.5 577.7L897.0 577.2M900.0 576.6L902.5 576.1M902.5 576.1L905.0 574.9M908.0 573.5L910.5 572.3M910.5 572.3L913.0 571.2M916.0 569.8L918.5 568.6M918.5 568.6L921.0 567.1M924.0 565.4L926.5 563.9M926.5 563.9L929.0 562.4M932.0 560.6L934.5 559.2M934.5 559.2L937.0 557.9M940.0 556.4L942.5 555.1M942.5 555.1L945.0 553.8M948.0 552.3L950.5 551.1M950.5 551.1L953.0 550.3M956.0 549.4L958.5 548.6M958.5 548.6L961.0 548.0M964.0 547.2L966.5 546.5M966.5 546.5L969.0 546.7M972.0 546.8L974.5 546.9M974.5 546.9L977.0 547.0M980.0 547.2L982.5 547.3M982.5 547.3L985.0 548.2M988.0 549.2L990.5 550.0M990.5 550.0L993.0 550.9M996.0 551.9L998.5 552.8M998.5 552.8L1001.0 554.0M1004.0 555.5L1006.5 556.8M1006.5 556.8L1009.0 558.1M1012.0 559.6L1014.5 560.8M1014.5 560.8L1017.0 562.0M1020.0 563.4L1022.5 564.6M1022.5 564.6L1025.0 565.8M1028.0 567.2L1030.5 568.4M1030.5 568.4L1033.0 568.8M1036.0 569.3L1038.5 569.8M1038.5 569.8L1041.0 570.2M1044.0 570.7L1046.5 571.1M1046.5 571.1L1049.0 571.1M1052.0 571.1L1054.5 571.1M1054.5 571.1L1057.0 571.1M1060.0 571.1L1062.5 571.1M1062.5 571.1L1065.0 570.7M1068.0 570.3L1070.5 569.9M1070.5 569.9L1073.0 569.4M1076.0 568.7L1078.5 568.2M1078.5 568.2L1081.0 567.0M1084.0 565.6L1086.5 564.4M1086.5 564.4L1089.0 563.4M1092.0 562.1L1094.5 561.1M1094.5 561.1L1097.0 559.7M1100.0 558.0L1102.5 556.5M1102.5 556.5L1105.0 555.0M1108.0 553.2L1110.5 551.7M1110.5 551.7L1113.0 550.4M1116.0 548.8L1118.5 547.5M1118.5 547.5L1121.0 546.2M1124.0 544.7L1126.5 543.4M1126.5 543.4L1129.0 542.4M1132.0 541.1L1134.5 540.1M1134.5 540.1L1137.0 539.2M1140.0 538.1L1142.5 537.1M1142.5 537.1L1145.0 536.5M1148.0 535.8L1150.5 535.2M1150.5 535.2L1153.0 534.7M1156.0 534.2L1158.5 533.7M1158.5 533.7L1161.0 533.6M1164.0 533.5L1166.5 533.4M1166.5 533.4L1169.0 533.4M1172.0 533.4L1174.5 533.4" fill="none" stroke="#ff0000" stroke-width="1"/>
</g>
<text transform="translate(9.8,493) scale(1,1.03)" textLength="123.5" lengthAdjust="spacingAndGlyphs">MACD(12,26,9) -0.741 -0.988</text>
<g shape-rendering="crispEdges">
<rect x="1194" y="481" width="2" height="1" fill="#000"/>
<rect x="1194" y="529" width="2" height="1" fill="#000"/>
<rect x="1194" y="594" width="2" height="1" fill="#000"/>
</g>
<text transform="translate(1197.3,491) scale(1,1.03)" textLength="27" lengthAdjust="spacingAndGlyphs">12.502</text>
<text transform="translate(1197.3,533) scale(1,1.03)" textLength="17.3" lengthAdjust="spacingAndGlyphs">0.00</text>
<text transform="translate(1197.3,592) scale(1,1.03)" textLength="30.3" lengthAdjust="spacingAndGlyphs">-17.221</text>
<g clip-path="url(#c3)">
<g shape-rendering="crispEdges">
<line x1="7" y1="620.5" x2="1193" y2="620.5" stroke="#c0c0c0" stroke-dasharray="3 3"/>
<line x1="7" y1="650.5" x2="1193" y2="650.5" stroke="#c0c0c0" stroke-dasharray="3 3"/>
</g>
<polyline points="5.0,638.5 6.5,638.7 14.5,639.4 22.5,639.4 30.5,642.7 38.5,635.4 46.5,636.4 54.5,633.4 62.5,634.4 70.5,634.4 78.5,636.2 86.5,637.4 94.5,637.4 102.5,641.4 110.5,641.7 118.5,641.4 126.5,638.4 134.5,640.4 142.5,640.4 150.5,634.4 158.5,637.4 166.5,638.4 174.5,639.4 182.5,636.4 190.5,631.4 198.5,629.1 206.5,631.4 214.5,630.4 222.5,632.4 230.5,631.4 238.5,630.4 246.5,624.4 254.5,622.1 262.5,622.1 270.5,624.4 278.5,622.1 286.5,615.1 294.5,625.1 302.5,623.1 310.5,624.4 318.5,621.1 326.5,626.4 334.5,625.4 342.5,619.3 350.5,621.1 358.5,623.1 366.5,621.4 374.5,621.4 382.5,618.6 390.5,617.3 398.5,620.3 406.5,621.4 414.5,624.4 422.5,623.1 430.5,622.4 438.5,632.4 446.5,629.4 454.5,628.1 462.5,622.4 470.5,623.1 478.5,621.4 486.5,621.1 494.5,622.4 502.5,631.4 510.5,632.4 518.5,631.4 526.5,632.4 534.5,630.4 542.5,643.2 550.5,646.5 558.5,645.4 566.5,647.2 574.5,648.5 582.5,642.4 590.5,642.2 598.5,638.4 606.5,639.6 614.5,641.4 622.5,642.4 630.5,646.2 638.5,646.2 646.5,639.4 654.5,639.4 662.5,639.4 670.5,638.4 678.5,646.2 686.5,643.2 694.5,646.2 702.5,646.5 710.5,649.5 718.5,652.5 726.5,654.5 734.5,656.2 742.5,655.5 750.5,654.2 758.5,651.2 766.5,653.2 774.5,648.5 782.5,649.5 790.5,649.2 798.5,645.4 806.5,648.5 814.5,648.2 822.5,646.5 830.5,651.2 838.5,650.2 846.5,650.2 854.5,652.2 862.5,648.5 870.5,647.2 878.5,647.2 886.5,640.4 894.5,640.2 902.5,635.4 910.5,628.4 918.5,627.1 926.5,633.1 934.5,634.4 942.5,639.4 950.5,642.2 958.5,644.2 966.5,647.5 974.5,649.2 982.5,651.2 990.5,650.2 998.5,650.2 1006.5,652.2 1014.5,647.5 1022.5,642.2 1030.5,644.2 1038.5,643.2 1046.5,644.2 1054.5,640.4 1062.5,641.4 1070.5,641.4 1078.5,633.1 1086.5,629.4 1094.5,626.4 1102.5,630.4 1110.5,629.4 1118.5,638.4 1126.5,637.4 1134.5,639.4 1142.5,637.4 1150.5,639.4 1158.5,635.4 1166.5,633.4 1174.5,635.4" fill="none" stroke="#1e90ff" stroke-width="1" shape-rendering="crispEdges"/>
</g>
<text transform="translate(9.6,610) scale(1,1.03)" textLength="68" lengthAdjust="spacingAndGlyphs">RSI(14) 50.3126</text>
<g shape-rendering="crispEdges">
<rect x="1194" y="598" width="2" height="1" fill="#000"/>
<rect x="1194" y="671" width="2" height="1" fill="#000"/>
</g>
<text transform="translate(1197.0,607.6) scale(1,1.03)">100</text>
<text transform="translate(1195.8,623.7) scale(1,1.03)">70</text>
<text transform="translate(1195.8,653.6) scale(1,1.03)">30</text>
<text transform="translate(1196.2,668.6) scale(1,1.03)">0</text>
<g shape-rendering="crispEdges">
<rect x="6" y="673" width="1" height="3" fill="#000"/>
<rect x="70" y="673" width="1" height="3" fill="#000"/>
<rect x="134" y="673" width="1" height="3" fill="#000"/>
<rect x="198" y="673" width="1" height="3" fill="#000"/>
<rect x="262" y="673" width="1" height="3" fill="#000"/>
<rect x="326" y="673" width="1" height="3" fill="#000"/>
<rect x="390" y="673" width="1" height="3" fill="#000"/>
<rect x="454" y="673" width="1" height="3" fill="#000"/>
<rect x="518" y="673" width="1" height="3" fill="#000"/>
<rect x="582" y="673" width="1" height="3" fill="#000"/>
<rect x="646" y="673" width="1" height="3" fill="#000"/>
<rect x="710" y="673" width="1" height="3" fill="#000"/>
<rect x="774" y="673" width="1" height="3" fill="#000"/>
<rect x="838" y="673" width="1" height="3" fill="#000"/>
<rect x="902" y="673" width="1" height="3" fill="#000"/>
<rect x="966" y="673" width="1" height="3" fill="#000"/>
<rect x="1030" y="673" width="1" height="3" fill="#000"/>
<rect x="1094" y="673" width="1" height="3" fill="#000"/>
<rect x="1158" y="673" width="1" height="3" fill="#000"/>
</g>
<text transform="translate(5.4,684.7) scale(1,1.03)" textLength="44.8" lengthAdjust="spacingAndGlyphs">1 Apr 2022</text>
<text transform="translate(68.3,684.7) scale(1,1.03)" textLength="48.2" lengthAdjust="spacingAndGlyphs">4 Apr 20:00</text>
<text transform="translate(132.3,684.7) scale(1,1.03)" textLength="48.2" lengthAdjust="spacingAndGlyphs">6 Apr 04:00</text>
<text transform="translate(196.3,684.7) scale(1,1.03)" textLength="48.2" lengthAdjust="spacingAndGlyphs">7 Apr 12:00</text>
<text transform="translate(260.3,684.7) scale(1,1.03)" textLength="53.2" lengthAdjust="spacingAndGlyphs">10 Apr 23:00</text>
<text transform="translate(324.3,684.7) scale(1,1.03)" textLength="53.2" lengthAdjust="spacingAndGlyphs">12 Apr 04:00</text>
<text transform="translate(388.3,684.7) scale(1,1.03)" textLength="53.2" lengthAdjust="spacingAndGlyphs">13 Apr 12:00</text>
<text transform="translate(452.3,684.7) scale(1,1.03)" textLength="53.2" lengthAdjust="spacingAndGlyphs">14 Apr 20:00</text>
<text transform="translate(516.3,684.7) scale(1,1.03)" textLength="53.2" lengthAdjust="spacingAndGlyphs">19 Apr 00:00</text>
<text transform="translate(580.3,684.7) scale(1,1.03)" textLength="53.2" lengthAdjust="spacingAndGlyphs">20 Apr 08:00</text>
<text transform="translate(644.3,684.7) scale(1,1.03)" textLength="53.2" lengthAdjust="spacingAndGlyphs">21 Apr 16:00</text>
<text transform="translate(708.3,684.7) scale(1,1.03)" textLength="53.2" lengthAdjust="spacingAndGlyphs">25 Apr 00:00</text>
<text transform="translate(772.3,684.7) scale(1,1.03)" textLength="53.2" lengthAdjust="spacingAndGlyphs">26 Apr 08:00</text>
<text transform="translate(836.3,684.7) scale(1,1.03)" textLength="53.2" lengthAdjust="spacingAndGlyphs">27 Apr 16:00</text>
<text transform="translate(900.3,684.7) scale(1,1.03)" textLength="53.2" lengthAdjust="spacingAndGlyphs">29 Apr 00:00</text>
<text transform="translate(964.3,684.7) scale(1,1.03)" textLength="53.2" lengthAdjust="spacingAndGlyphs">2 May 08:00</text>
<text transform="translate(1028.3,684.7) scale(1,1.03)" textLength="53.2" lengthAdjust="spacingAndGlyphs">3 May 16:00</text>
<text transform="translate(1092.3,684.7) scale(1,1.03)" textLength="53.2" lengthAdjust="spacingAndGlyphs">5 May 00:00</text>
<text transform="translate(1156.3,684.7) scale(1,1.03)" textLength="53.2" lengthAdjust="spacingAndGlyphs">6 May 08:00</text>
</svg></body></html>
